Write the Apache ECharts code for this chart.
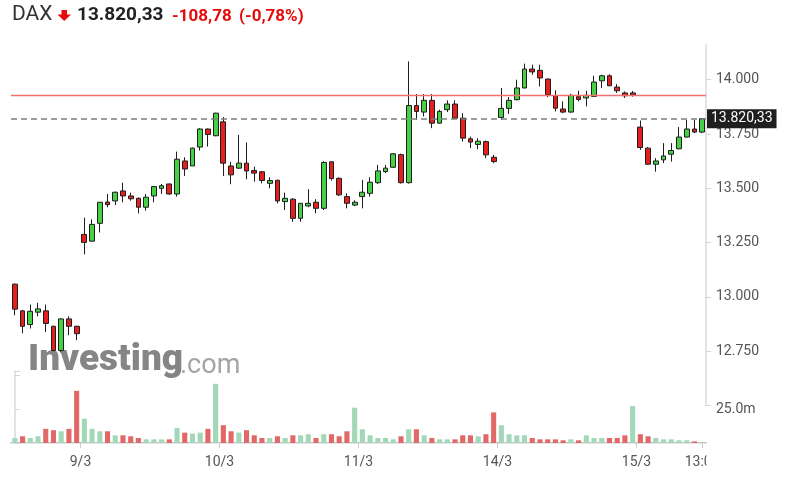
<!DOCTYPE html>
<html>
<head>
<meta charset="utf-8">
<script src="https://cdn.jsdelivr.net/npm/echarts@6/dist/echarts.min.js"></script>
<style>
html,body{margin:0;padding:0;background:#fff;}
#c{width:790px;height:494px;}
</style>
</head>
<body>
<div id="c"></div>
<script>
// ---- data (30-min candles, Xetra DAX) ----
const days = ['8/3','9/3','10/3','11/3','14/3','15/3'];
const slots = ['09:00','09:30','10:00','10:30','11:00','11:30','12:00','12:30','13:00','13:30','14:00','14:30','15:00','15:30','16:00','16:30','17:00','17:30'];
const firstSlot = [9,0,0,0,0,0];
const lastSlot  = [17,17,17,17,17,8];

const open = [13059,12936,12873,12930,12936,12865,12754,12899,12865,
13288,13257,13339,13437,13442,13488,13465,13454,13413,13465,13500,13520,13474,13626,13603,13690,13773,13742,
13806,13603,13593,13616,13582,13576,13523,13537,13439,13450,13362,13419,13436,13408,13622,13546,13462,13423,
13462,13477,13526,13577,13597,13655,13526,13881,13851,13905,13800,13862,13888,13823,13728,13702,13715,13643,
13826,13868,13908,13962,14049,14043,14003,13926,13865,13851,13922,13916,13923,13995,14018,13966,13939,13939,
13782,13685,13611,13631,13657,13682,13736,13773,13759];
const close = [12944,12865,12934,12945,12878,12754,12899,12865,12831,
13251,13334,13436,13425,13482,13465,13452,13413,13459,13508,13512,13474,13634,13589,13685,13773,13748,13846,
13616,13562,13616,13580,13570,13536,13536,13442,13454,13362,13431,13431,13408,13619,13545,13470,13431,13436,
13482,13528,13580,13593,13659,13526,13881,13854,13905,13800,13854,13888,13823,13731,13713,13717,13654,13623,
13868,13905,13962,14049,14036,14008,13931,13869,13851,13928,13909,13928,13989,14018,13972,13949,13926,13929.11,
13688,13611,13626,13649,13674,13736,13773,13759,13820.33];
const low = [12916,12833,12855,12911,12839,12750,12745,12824,12801,
13196,13255,13297,13413,13423,13436,13443,13385,13397,13436,13474,13470,13462,13557,13603,13674,13692,13740,
13557,13519,13590,13542,13531,13523,13500,13431,13400,13346,13346,13413,13385,13400,13536,13465,13408,13418,
13408,13462,13520,13570,13595,13522,13522,13815,13831,13777,13798,13851,13820,13715,13685,13680,13639,13616,
13815,13843,13905,13960,14023,13969,13920,13854,13846,13848,13900,13877,13920,13962,13970,13939,13916,13922,
13677,13608,13577,13616,13623,13680,13733,13754,13754];
const high = [13062,12940,12965,12973,12965,12868,12902,12911,12868,
13365,13357,13437,13474,13485,13526,13480,13458,13474,13510,13520,13522,13669,13643,13688,13777,13775,13848,
13828,13622,13746,13711,13600,13580,13551,13540,13480,13455,13431,13496,13450,13625,13625,13550,13477,13445,
13539,13551,13608,13608,13662,13660,14084,13934,13934,13934,13862,13905,13905,13846,13738,13731,13720,13654,
13962,13920,14000,14074,14069,14069,14005,13951,13900,13935,13949,13949,14018,14023,14025,13980,13946,13948,
13812,13690,13639,13708,13708,13782,13815,13815,13822];
// volume in millions
const volume = [3.7,5.0,3.7,5.0,10.5,9.5,8.7,10.5,38.7,
18.0,10.5,8.7,8.7,5.7,5.7,5.0,3.7,2.7,2.7,2.7,2.7,11.2,7.7,7.0,7.7,10.5,43.9,
13.2,8.7,7.7,9.5,5.7,3.7,3.7,5.0,3.7,5.7,5.7,6.5,3.7,6.5,6.5,5.0,8.7,26.2,
10.2,5.7,3.7,3.7,2.7,5.0,10.2,10.2,5.7,3.7,2.7,2.7,2.7,5.7,5.7,5.0,6.5,22.7,
13.2,6.5,5.7,5.7,3.7,2.7,2.7,2.7,2.0,2.7,2.0,5.7,3.7,3.7,3.7,3.7,5.7,27.4,
6.5,5.0,3.7,2.7,2.7,2.0,2.0,1.2,0.5];
const priceTicks = [12750,13000,13250,13500,13750,14000];
const volumeTicks = [25];

// categories
const categories = [];
const dayStartIdx = [];
days.forEach((d, di) => {
  dayStartIdx.push(categories.length);
  for (let s = firstSlot[di]; s <= lastSlot[di]; s++) categories.push(d + ' ' + slots[s]);
});
const lastIdx = categories.length - 1;

// x label positions (day boundaries + current time)
const xLabelVals = dayStartIdx.slice(1).map(i => i - 0.5).concat([lastIdx]);
const xLabelTexts = days.slice(1).concat([categories[lastIdx].split(' ')[1]]);

function fmtDE(v, dec) {
  const s = Math.abs(v).toFixed(dec).split('.');
  const int = s[0].replace(/\B(?=(\d{3})+(?!\d))/g, '.');
  return (v < 0 ? '-' : '') + int + (dec ? ',' + s[1] : '');
}
const lastClose = close[lastIdx];
const prevClose = close[dayStartIdx[5] - 1];
const chg = lastClose - prevClose;
const pct = chg / prevClose * 100;

const candleData = open.map((o, i) => [o, close[i], low[i], high[i]]);
const GREEN = '#45d045', RED = '#e3201f';
const VGREEN = '#a2d8b8', VRED = '#e26868';
const PREV_LINE = '#f27070';
const volData = volume.map((v, i) => ({
  value: v,
  itemStyle: { color: (i === 0 || close[i] >= close[i - 1]) ? VGREEN : VRED }
}));

const chart = echarts.init(document.getElementById('c'), null, { renderer: 'canvas' });
const axisFont = { fontFamily: 'Roboto', fontSize: 14, color: '#555' };

chart.setOption({
  animation: false,
  backgroundColor: '#fff',
  grid: [
    { left: 11, right: 84, top: 45, bottom: 88.4 },
    { left: 11, right: 84, top: 371, bottom: 51 }
  ],
  xAxis: [
    { type: 'category', gridIndex: 0, data: categories, show: false },
    { type: 'category', gridIndex: 1, data: categories, position: 'top',
      axisLine: { show: true, lineStyle: { color: '#c4c4c4', width: 2 } },
      axisTick: { show: false }, axisLabel: { show: false }, splitLine: { show: false } },
    { type: 'value', gridIndex: 1, min: -0.5, max: lastIdx + 0.5, position: 'bottom',
      axisLine: { show: true, lineStyle: { color: '#e6e6e6' } },
      axisTick: { show: true, customValues: xLabelVals, length: 5, lineStyle: { color: '#cfcfcf' } },
      axisLabel: Object.assign({ customValues: xLabelVals, margin: 12,
        formatter: v => { const k = xLabelVals.indexOf(v); return k >= 0 ? xLabelTexts[k] : ''; } }, axisFont),
      splitLine: { show: false } }
  ],
  yAxis: [
    { type: 'value', gridIndex: 0, position: 'right', min: 12500, max: 14159.7, interval: 250,
      axisLine: { show: true, lineStyle: { color: '#dadada', width: 1.5 } },
      axisTick: { show: true, length: 5, lineStyle: { color: '#d5d5d5' } },
      axisLabel: Object.assign({ margin: 10, showMaxLabel: false,
        formatter: v => priceTicks.indexOf(v) >= 0 ? fmtDE(v, 0) : '' }, axisFont),
      splitLine: { show: false } },
    { type: 'value', gridIndex: 1, position: 'right', min: 0, max: 53.4, interval: 25,
      axisLine: { show: true, lineStyle: { color: '#dadada', width: 1.5 } },
      axisTick: { show: true, length: 5, lineStyle: { color: '#d5d5d5' } },
      axisLabel: Object.assign({ margin: 10,
        formatter: v => volumeTicks.indexOf(v) >= 0 ? v.toFixed(1) + 'm' : '' }, axisFont),
      splitLine: { show: false } }
  ],
  series: [
    { type: 'line', xAxisIndex: 0, yAxisIndex: 0, data: close, silent: true, showSymbol: false,
      color: PREV_LINE, itemStyle: { color: PREV_LINE },
      lineStyle: { opacity: 0, color: PREV_LINE }, z: 1,
      markLine: {
        silent: true, symbol: ['none', 'none'], animation: false, precision: 2,
        itemStyle: { color: PREV_LINE },
        lineStyle: { color: PREV_LINE, type: 'solid', width: 1.4, opacity: 1 },
        label: { show: false },
        data: [ { yAxis: prevClose } ]
      }
    },
    { type: 'candlestick', xAxisIndex: 0, yAxisIndex: 0, data: candleData, barWidth: '68%', z: 3,
      itemStyle: { color: GREEN, color0: RED, borderColor: '#1e1e1e', borderColor0: '#1e1e1e', borderWidth: 1 },
      markLine: {
        silent: true, symbol: ['none', 'none'], animation: false, precision: 2,
        lineStyle: { color: '#7d7d7d', type: [6, 4], width: 1.5 },
        label: { show: true, position: 'end', distance: 1, formatter: () => fmtDE(lastClose, 2),
          backgroundColor: '#1f1f1f', color: '#fff', fontFamily: 'Roboto', fontSize: 14,
          padding: [3, 4, 2, 4] },
        data: [ { yAxis: lastClose } ]
      }
    },
    { type: 'bar', xAxisIndex: 1, yAxisIndex: 1, data: volData, barWidth: '66%' }
  ],
  graphic: [
    { type: 'text', z: 0, left: 28, top: 342,
      style: { text: 'Investing', font: '900 37px Roboto', fill: '#858585' } },
    { type: 'text', z: 0, left: 180, top: 353,
      style: { text: '.com', font: '27px Roboto', fill: '#a5a5a5' } },
    { type: 'text', left: 12, top: 4,
      style: { text: 'DAX', font: '21px Roboto', fill: '#333' } },
    { type: 'polygon', shape: { points: [[61.5,10],[67,10],[67,14.5],[71,14.5],[64.2,21],[57.5,14.5],[61.5,14.5]] },
      style: { fill: '#e60b0b' } },
    { type: 'text', left: 77, top: 6,
      style: { text: fmtDE(lastClose, 2), font: 'bold 19px Roboto', fill: '#222' } },
    { type: 'text', left: 172, top: 8,
      style: { text: fmtDE(chg, 2), font: 'bold 17px Roboto', fill: '#e60b0b' } },
    { type: 'text', left: 239, top: 8,
      style: { text: '(' + fmtDE(pct, 2) + '%)', font: 'bold 17px Roboto', fill: '#e60b0b' } },
    { type: 'rect', z: 100, shape: { x: 706.5, y: 448, width: 84, height: 30 }, style: { fill: '#fff' } }
  ]
});
</script>
</body>
</html>
